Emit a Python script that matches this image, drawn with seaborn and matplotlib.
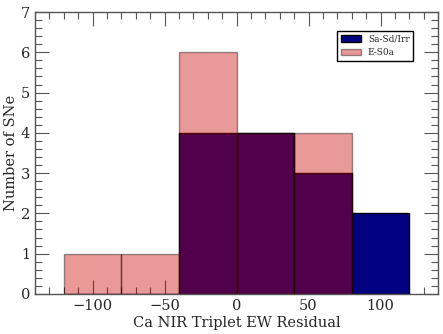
import numpy as np
import matplotlib
matplotlib.use('Agg')
import matplotlib.pyplot as plt
import seaborn as sns
from matplotlib.ticker import MultipleLocator

# bin edges and counts
bin_edges = [-120, -80, -40, 0, 40, 80, 120]
late_counts = [0, 0, 4, 4, 3, 2]    # Sa-Sd/Irr
early_counts = [1, 1, 6, 4, 4, 0]   # E-S0a

centers = [(a + b) / 2 for a, b in zip(bin_edges[:-1], bin_edges[1:])]

sns.set_style('ticks')
plt.rcParams['font.family'] = ['DejaVu Serif']
plt.rcParams['mathtext.fontset'] = 'dejavuserif'

fig = plt.figure(figsize=(4.43, 3.34), dpi=100)
ax = fig.add_axes([0.079, 0.12, 0.91, 0.844])

sns.histplot(x=centers, weights=late_counts, bins=bin_edges, color='#000080',
             alpha=1.0, edgecolor='black', linewidth=1.0, ax=ax, label='Sa-Sd/Irr')
sns.histplot(x=centers, weights=early_counts, bins=bin_edges, color='#cc0000',
             alpha=0.4, edgecolor=(0, 0, 0, 0.4), linewidth=1.0, ax=ax, label='E-S0a')

ax.set_xlim(-140, 140)
ax.set_ylim(0, 7)
ax.xaxis.set_major_locator(MultipleLocator(50))
ax.xaxis.set_minor_locator(MultipleLocator(10))
ax.yaxis.set_major_locator(MultipleLocator(1))
ax.yaxis.set_minor_locator(MultipleLocator(0.2))
ax.tick_params(which='both', direction='in', top=True, right=True, labelsize=10.5)
ax.tick_params(which='major', length=10, width=0.8, color='#555555')
ax.tick_params(which='minor', length=5, width=0.8, color='#555555')
for s in ax.spines.values():
    s.set_color('#555555')
    s.set_linewidth(1.0)

ax.set_xlabel('Ca NIR Triplet EW Residual', fontsize=10.5, labelpad=2)
ax.set_ylabel('Number of SNe', fontsize=10.5, labelpad=2)

leg = ax.legend(loc='upper right', fontsize=6.5, fancybox=False, framealpha=1,
                edgecolor='black', bbox_to_anchor=(0.938, 0.933), borderaxespad=0,
                handlelength=2.2)
leg.get_frame().set_linewidth(1.0)

fig.savefig('out.png', dpi=100)
